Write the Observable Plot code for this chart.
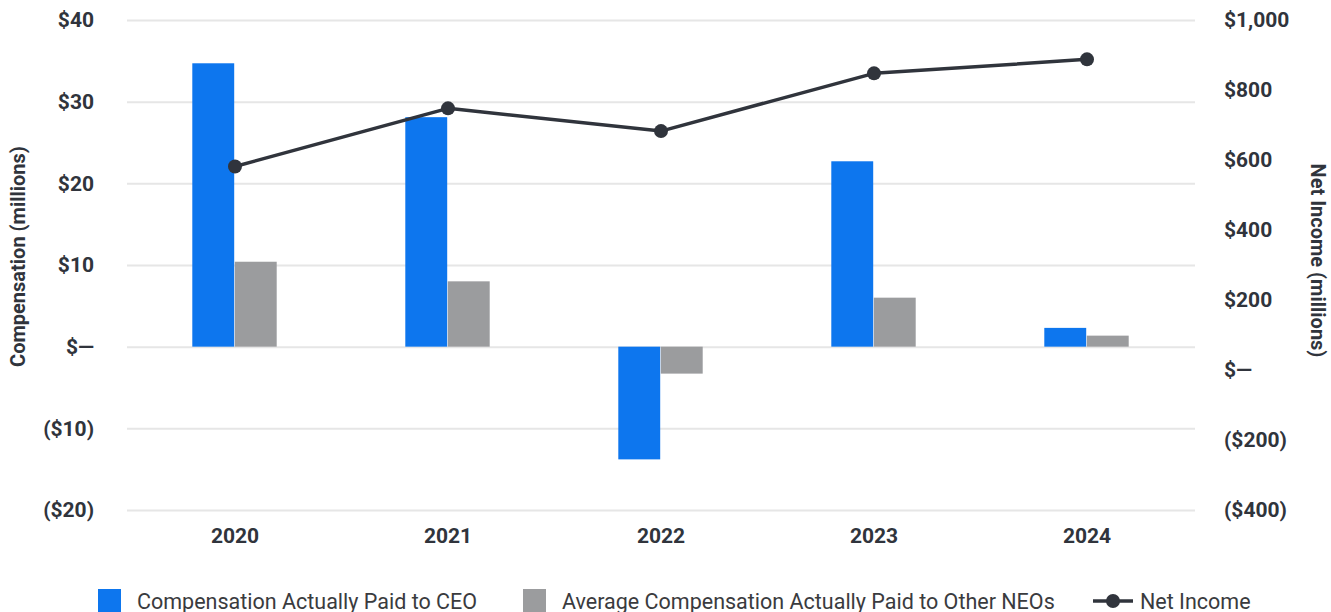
<!DOCTYPE html>
<html><head><meta charset="utf-8">
<script src="https://cdn.jsdelivr.net/npm/d3@7"></script>
<script src="https://cdn.jsdelivr.net/npm/@observablehq/plot@0.6"></script>
<style>
body{margin:0;background:#fff;font-family:Roboto,sans-serif;}
#wrap{position:relative;width:1331px;height:612px;overflow:hidden;}
.lg{position:absolute;top:588px;height:26px;display:flex;align-items:center;font-size:21.5px;color:#3a3b3e;white-space:nowrap;}
.sw{width:23px;height:24px;margin-right:16px;}
</style></head><body><div id="wrap"><div id="chart"></div>
<div class="lg" style="left:98px"><div class="sw" style="background:#0d76ee"></div>Compensation Actually Paid to CEO</div>
<div class="lg" style="left:523px"><div class="sw" style="background:#9b9c9e"></div>Average Compensation Actually Paid to Other NEOs</div>
<div class="lg" style="left:1093px"><svg width="42" height="20" style="margin-right:5px"><line x1="0" x2="40" y1="10" y2="10" stroke="#30343c" stroke-width="3.5"/><circle cx="20" cy="10" r="7" fill="#30343c"/></svg>Net Income</div>
</div>
<script>
const years = ["2020", "2021", "2022", "2023", "2024"];
const ceoPay = [34.7, 28.1, -13.8, 22.7, 2.3];
const neoPay = [10.4, 8.0, -3.3, 6.0, 1.35];
const netIncome = [583, 749, 684, 849, 889];
const leftTicks = [-20, -10, 0, 10, 20, 30, 40];
const rightTicks = [-400, -200, 0, 200, 400, 600, 800, 1000];
const leftDomain = [-20, 40];
const rightDomain = [-400, 1000];

const toLeft = v => leftDomain[0] + (v - rightDomain[0]) * (leftDomain[1] - leftDomain[0]) / (rightDomain[1] - rightDomain[0]);
const fmt = v => v === 0 ? "$\u2014" : v < 0 ? `($${d3.format(",")(-v)})` : `$${d3.format(",")(v)}`;
const rightPos = rightTicks.map(toLeft);

const ceoData = years.map((y, i) => ({year: y, value: ceoPay[i]}));
const neoData = years.map((y, i) => ({year: y, value: neoPay[i]}));
const niData = years.map((y, i) => ({year: y, value: netIncome[i]}));

const W = 1331, ML = 126, MR = 137, SH = 1;
const band = (W - ML - MR) / years.length;
const barW = 42.5;
const ink = "#30343c";
const axisFont = {fontSize: 21, fontWeight: "bold", fill: ink};

const chart = Plot.plot({
  width: W, height: 560,
  marginLeft: ML, marginRight: MR, marginTop: 20, marginBottom: 50,
  style: {fontFamily: "Roboto, sans-serif", background: "#fff"},
  x: {type: "band", domain: years, padding: 0},
  y: {domain: leftDomain},
  marks: [
    Plot.gridY(leftTicks, {stroke: "#e6e6e6", strokeOpacity: 1, strokeWidth: 2, insetLeft: SH, insetRight: -SH}),
    Plot.barY(ceoData, {x: "year", y: "value", fill: "#0d76ee", insetLeft: band / 2 - barW, insetRight: band / 2}),
    Plot.barY(neoData, {x: "year", y: "value", fill: "#9b9c9e", insetLeft: band / 2, insetRight: band / 2 - barW}),
    Plot.line(niData, {x: "year", y: d => toLeft(d.value), stroke: ink, strokeWidth: 3.5}),
    Plot.dot(niData, {x: "year", y: d => toLeft(d.value), r: 7, fill: ink}),
    Plot.axisY(leftTicks, {anchor: "left", tickSize: 0, tickPadding: 32.5, tickFormat: fmt, label: null, ...axisFont}),
    Plot.axisY(rightPos, {anchor: "right", tickSize: 0, tickPadding: 29.5, tickFormat: d => fmt(rightTicks[rightPos.indexOf(d)]), label: null, ...axisFont}),
    Plot.axisX({tickSize: 0, tickPadding: 18, label: null, ...axisFont}),
    Plot.text(["Compensation (millions)"], {frameAnchor: "left", textAnchor: "middle", rotate: -90, dx: -108, dy: -9, fontSize: 20, fontWeight: "bold", fill: ink}),
    Plot.text(["Net Income (millions)"], {frameAnchor: "right", textAnchor: "middle", rotate: 90, dx: 123, dy: -5, fontSize: 20, fontWeight: "bold", fill: ink})
  ]
});
document.getElementById("chart").appendChild(chart);
</script>
</body></html>
